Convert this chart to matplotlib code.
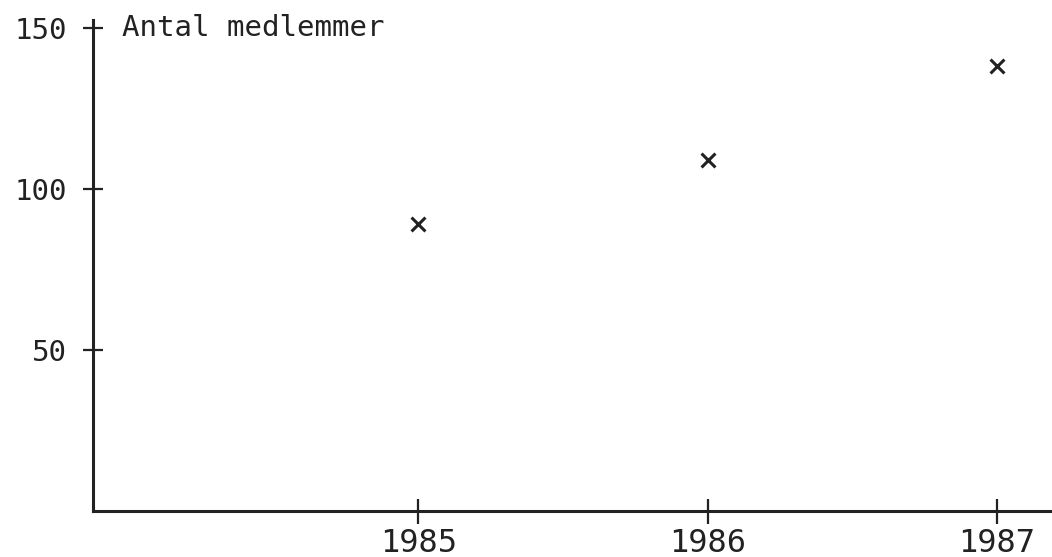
import matplotlib
matplotlib.use("Agg")
import matplotlib.pyplot as plt

# data
aar = [1985, 1986, 1987]
medlemmer = [89, 109, 138]
yticks = [50, 100, 150]

farve = "#222222"
plt.rcParams['font.family'] = ['DejaVu Sans Mono']

fig = plt.figure(figsize=(10.52, 5.57), dpi=100)
# akse placeret i pixel: venstre 93, bund 511, top 20
ax = fig.add_axes([93/1052, (557-511)/557, 1 - 93/1052, (511-20)/557])

ax.scatter(aar, medlemmer, marker='x', s=100, linewidths=2.2, color=farve, zorder=3)

ax.set_xlim(1983.875, 1987.19)
ax.set_ylim(0, 152.4)

ax.set_xticks(aar)
ax.set_xticklabels([str(a) for a in aar])
ax.set_yticks(yticks)
ax.set_yticklabels([str(t) for t in yticks])

for side in ['top', 'right']:
    ax.spines[side].set_visible(False)
for side in ['left', 'bottom']:
    ax.spines[side].set_linewidth(2.2)
    ax.spines[side].set_color(farve)

ax.tick_params(axis='y', direction='inout', length=15, width=1.6, color=farve,
               labelsize=21, pad=11, labelcolor=farve)
ax.tick_params(axis='x', direction='inout', length=18, width=1.6, color=farve,
               labelsize=23, pad=3, labelcolor=farve)

ax.annotate('Antal medlemmer', xy=(0, 150), xycoords=('axes fraction', 'data'),
            xytext=(21, 0), textcoords='offset points', va='center', ha='left',
            fontsize=21, color=farve)

fig.savefig('out.png', dpi=100)
